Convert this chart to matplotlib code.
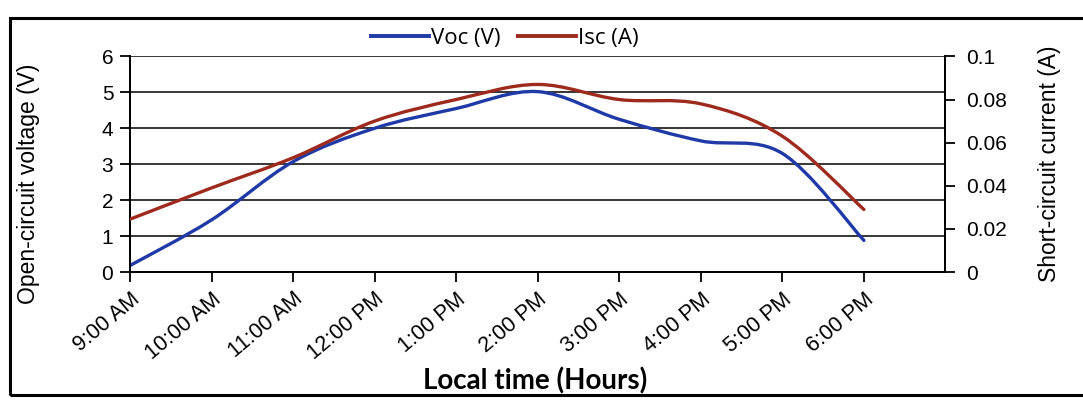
from matplotlib import pyplot as plt
from matplotlib.path import Path
from matplotlib.patches import PathPatch, Rectangle
from matplotlib.lines import Line2D

# Data
HOURS = ['9:00 AM', '10:00 AM', '11:00 AM', '12:00 PM', '1:00 PM',
         '2:00 PM', '3:00 PM', '4:00 PM', '5:00 PM', '6:00 PM']
VOC = [0.18, 1.45, 3.07, 4.0, 4.55, 5.02, 4.25, 3.65, 3.3, 0.88]
ISC = [0.0245, 0.039, 0.053, 0.070, 0.080, 0.087, 0.080, 0.078, 0.063, 0.029]

BLUE = '#1f3aa6'
RED = '#9e2a1e'
LABEL_FONT = 'Liberation Sans'


def smooth_path(xs, ys):
  # Excel style smoothed line: cubic bezier segments through the points
  verts = [(xs[0], ys[0])]
  codes = [Path.MOVETO]
  n = len(xs)
  for i in range(n - 1):
    x0, y0 = (xs[i - 1], ys[i - 1]) if i > 0 else (xs[i], ys[i])
    x1, y1 = xs[i], ys[i]
    x2, y2 = xs[i + 1], ys[i + 1]
    x3, y3 = (xs[i + 2], ys[i + 2]) if i + 2 < n else (x2, y2)
    c1 = (x1 + (x2 - x0) / 6, y1 + (y2 - y0) / 6)
    c2 = (x2 - (x3 - x1) / 6, y2 - (y3 - y1) / 6)
    verts += [c1, c2, (x2, y2)]
    codes += [Path.CURVE4] * 3
  return Path(verts, codes)


fig = plt.figure(figsize=(10.83, 4.03), dpi=100)
ax = fig.add_axes([0.12, 0.325, 0.753, 0.535])
ax2 = ax.twinx()

xs = list(range(len(HOURS)))

ax.add_patch(PathPatch(smooth_path(xs, VOC), fill=False, edgecolor=BLUE,
                       linewidth=2.4, capstyle='round', zorder=3))
ax2.add_patch(PathPatch(smooth_path(xs, ISC), fill=False, edgecolor=RED,
                        linewidth=2.4, capstyle='round', zorder=3))

ax.set_xlim(0, 10)
ax.set_ylim(0, 6)
ax2.set_ylim(0, 0.1)

ax.set_xticks(xs)
ax.set_xticklabels(HOURS, rotation=40, ha='right', rotation_mode='anchor',
                   fontsize=15.5, family=LABEL_FONT)
ax.set_yticks(range(0, 7))
ax.set_yticklabels([str(v) for v in range(0, 7)], fontsize=15, family=LABEL_FONT)
ax2.set_yticks([0, 0.02, 0.04, 0.06, 0.08, 0.1])
ax2.set_yticklabels(['0', '0.02', '0.04', '0.06', '0.08', '0.1'],
                    fontsize=15, family=LABEL_FONT)

ax.tick_params(axis='both', direction='out', length=7, width=1.3, pad=5)
ax2.tick_params(axis='y', direction='out', length=7, width=1.3, pad=8)

ax.yaxis.grid(True, color='black', linewidth=1.1)
ax.set_axisbelow(True)

for a in (ax, ax2):
  a.spines['top'].set_visible(False)
  for s in ['left', 'right', 'bottom']:
    a.spines[s].set_linewidth(1.3)

ax.set_ylabel('Open-circuit voltage (V)', fontsize=16.5, family=LABEL_FONT)
ax.yaxis.set_label_coords(-0.11, 0.41)
ax2.set_ylabel('Short-circuit current (A)', fontsize=16.5, family=LABEL_FONT)
ax2.yaxis.set_label_coords(1.113, 0.5)
ax.set_xlabel('Local time (Hours)', fontsize=20, fontweight='bold', family='Lato')
ax.xaxis.set_label_coords(0.497, -0.44)

handles = [Line2D([], [], color=BLUE, linewidth=2.8),
           Line2D([], [], color=RED, linewidth=2.8)]
fig.legend(handles, ['Voc (V)', 'Isc (A)'], loc='center', bbox_to_anchor=(0.466, 0.905),
           ncol=2, frameon=False, handlelength=2.6, handletextpad=0.1,
           columnspacing=0.8, prop={'family': 'Open Sans', 'size': 16})

# outer chart border
fig.patches.append(Rectangle((0.009, 0.02), 1.2, 0.935, transform=fig.transFigure,
                             fill=False, edgecolor='black', linewidth=2.2))

fig.savefig('out.png', dpi=100)
